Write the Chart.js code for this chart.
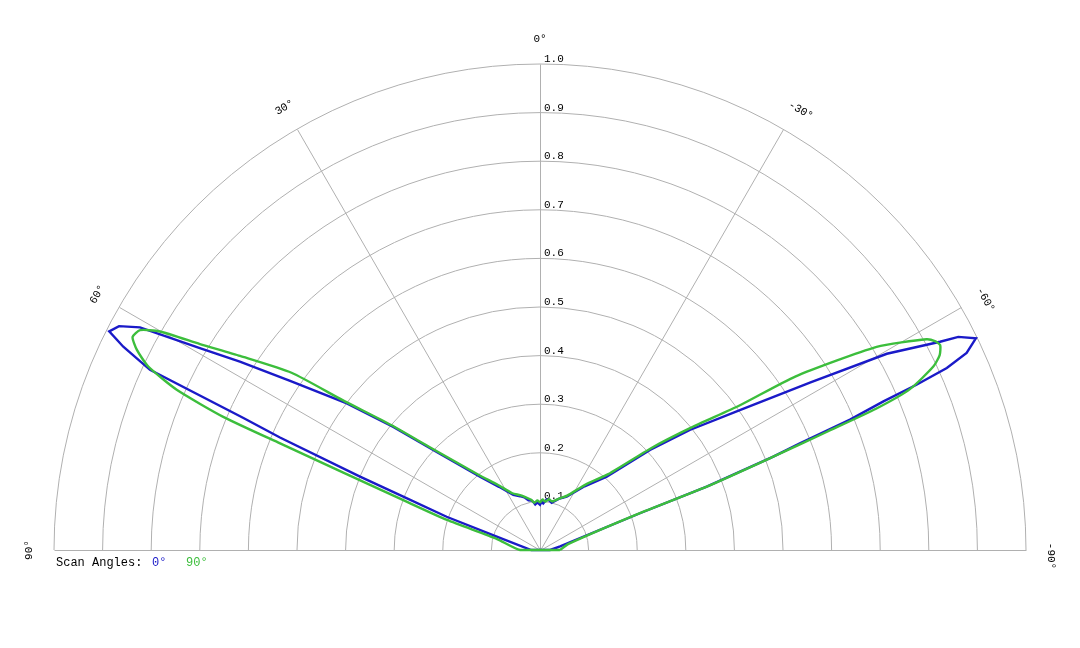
<!DOCTYPE html>
<html>
<head>
<meta charset="utf-8">
<title>Polar Candela Plot</title>
<script src="https://cdn.jsdelivr.net/npm/chart.js"></script>
<style>
  html, body { margin: 0; padding: 0; background: #fff; }
  #wrap { width: 1080px; height: 648px; }
</style>
</head>
<body>
<div id="wrap"><canvas id="polarChart" width="1080" height="648"></canvas></div>
<script>
// relative intensity vs angle (positive angles are on the left)
const blueAngles = [-90, -80, -69.8, -69.2, -68.2, -67.7, -67.2, -66.6, -66.3, -65.9, -65.2, -64.1, -63.0, -62.5,
  -60.5, -58.2, -55.0, -51.3, -47.7, -42.3, -35, -26.6, -20, -13.9, -10, -7.5, -4, -2, 0, 3, 6, 8, 9.6, 13, 16,
  20.3, 25.9, 33, 39.3, 46.9, 50.0, 52.8, 55.9, 57.9, 59.3, 60.9, 62.0, 63.1, 64.0, 65.2, 66.0, 66.6, 67.8, 68.7,
  70.4, 72.9, 90];
const blueValues = [0.021, 0.042, 0.219, 0.367, 0.517, 0.578, 0.692, 0.770, 0.846, 0.917, 0.967, 0.997, 0.966, 0.928,
  0.820, 0.655, 0.502, 0.395, 0.306, 0.204, 0.160, 0.123, 0.112, 0.100, 0.104, 0.105, 0.096, 0.100, 0.093, 0.098, 0.094, 0.100, 0.103, 0.105, 0.112,
  0.118, 0.126, 0.155, 0.195, 0.301, 0.394, 0.499, 0.621, 0.729, 0.814, 0.942, 0.981, 0.994, 0.954, 0.884, 0.669, 0.583, 0.400, 0.302,
  0.204, 0.093, 0.018];

const greenAngles = [-90, -78, -69.8, -69.2, -68.2, -67.6, -67.2, -66.5, -65.0, -64.0, -62.9, -62.2, -61.4, -58.9,
  -55.8, -54.1, -51, -47.5, -42, -35, -26.6, -20, -14, -10, -6, -3, 0, 3, 7, 10, 15, 20, 26, 33, 39.3, 47, 50,
  52.8, 54.5, 57.1, 58.8, 60.1, 61.2, 62.4, 63.6, 64.9, 66.2, 67.2, 67.7, 70.1, 72.1, 75.7, 90];
const greenValues = [0.041, 0.060, 0.215, 0.367, 0.517, 0.640, 0.750, 0.830, 0.893, 0.915, 0.925, 0.920, 0.906, 0.809,
  0.635, 0.508, 0.400, 0.310, 0.210, 0.165, 0.125, 0.112, 0.103, 0.106, 0.100, 0.104, 0.098, 0.102, 0.098, 0.105, 0.112, 0.120, 0.130, 0.160, 0.200, 0.310, 0.400,
  0.510, 0.628, 0.735, 0.818, 0.902, 0.939, 0.946, 0.926, 0.890, 0.817, 0.707, 0.578, 0.292, 0.201, 0.091, 0.041];

const ringTicks = [0.1, 0.2, 0.3, 0.4, 0.5, 0.6, 0.7, 0.8, 0.9, 1.0];
const spokeAngles = [90, 60, 30, 0, -30, -60, -90];
const spokeLabels = ['90°', '60°', '30°', '0°', '-30°', '-60°', '-90°'];
const legendTitle = 'Scan Angles:';
const seriesNames = ['0°', '90°'];
const seriesColors = ['#1a1ac8', '#3cbe3c'];

const monoFont = '"Liberation Mono", "Courier New", monospace';

// polar (angle from vertical, radius) -> cartesian point on the linear scales
function toXY(angles, values) {
  let points = [];
  for (let i = 0; i < angles.length; i++) {
    let rad = angles[i] * Math.PI / 180;
    points.push({ x: -values[i] * Math.sin(rad), y: values[i] * Math.cos(rad) });
  }
  // each curve is closed back to its first point
  points.push(points[0]);
  return points;
}

function deg(a) {
  return a * Math.PI / 180;
}

// rings, spokes and their labels, drawn under the curves
const polarGrid = {
  id: 'polarGrid',
  beforeDatasetsDraw(chart) {
    const ctx = chart.ctx;
    const xs = chart.scales.x;
    const ys = chart.scales.y;
    const cx = xs.getPixelForValue(0);
    const cy = ys.getPixelForValue(0);
    const unit = cy - ys.getPixelForValue(1);

    ctx.save();
    ctx.strokeStyle = '#b0b0b0';
    ctx.lineWidth = 1;
    ringTicks.forEach(function (v) {
      ctx.beginPath();
      ctx.arc(cx, cy, v * unit, Math.PI, 2 * Math.PI);
      ctx.stroke();
    });
    spokeAngles.forEach(function (a) {
      ctx.beginPath();
      ctx.moveTo(cx + 0.5, cy + 0.5);
      ctx.lineTo(cx + 0.5 - unit * Math.sin(deg(a)), cy + 0.5 - unit * Math.cos(deg(a)));
      ctx.stroke();
    });

    // radial tick values up the 0° spoke
    ctx.fillStyle = '#000';
    ctx.font = '11px ' + monoFont;
    ctx.textAlign = 'left';
    ctx.textBaseline = 'alphabetic';
    ringTicks.forEach(function (v) {
      ctx.fillText(v.toFixed(1), cx + 4, cy - v * unit - 2);
    });

    // angle labels, turned along the arc; the minus sign hangs ahead of the number
    ctx.textAlign = 'center';
    ctx.textBaseline = 'middle';
    spokeAngles.forEach(function (a, i) {
      const r = unit + 25;
      ctx.save();
      ctx.translate(cx - r * Math.sin(deg(a)), cy - r * Math.cos(deg(a)));
      ctx.rotate(-deg(a));
      ctx.fillText(spokeLabels[i], a < 0 ? 6 : 0, 0);
      ctx.restore();
    });
    ctx.restore();
  },
  afterDraw(chart) {
    const ctx = chart.ctx;
    ctx.save();
    ctx.font = '12px ' + monoFont;
    ctx.textAlign = 'left';
    ctx.textBaseline = 'alphabetic';
    ctx.fillStyle = '#000';
    ctx.fillText(legendTitle, 56, 566);
    const legendX = [152, 186];
    chart.data.datasets.forEach(function (ds, i) {
      ctx.fillStyle = seriesColors[i];
      ctx.fillText(seriesNames[i], legendX[i], 566);
    });
    ctx.restore();
  }
};

let polarChart = new Chart(document.getElementById('polarChart'), {
  type: 'scatter',
  data: {
    datasets: [
      {
        label: seriesNames[0],
        data: toXY(blueAngles, blueValues),
        borderColor: seriesColors[0],
        backgroundColor: seriesColors[0],
        borderWidth: 2.4,
        pointRadius: 0,
        showLine: true,
        fill: false,
        clip: false,
        order: 2
      },
      {
        label: seriesNames[1],
        data: toXY(greenAngles, greenValues),
        borderColor: seriesColors[1],
        backgroundColor: seriesColors[1],
        borderWidth: 2.4,
        pointRadius: 0,
        showLine: true,
        tension: 0.2,
        fill: false,
        clip: false,
        order: 1
      }
    ]
  },
  options: {
    responsive: false,
    animation: false,
    events: [],
    layout: {
      padding: { left: 54, right: 54, top: 64, bottom: 98 }
    },
    plugins: {
      legend: { display: false },
      tooltip: { enabled: false }
    },
    scales: {
      x: { type: 'linear', min: -1, max: 1, display: false },
      y: { type: 'linear', min: 0, max: 1, display: false }
    }
  },
  plugins: [polarGrid]
});
</script>
</body>
</html>
